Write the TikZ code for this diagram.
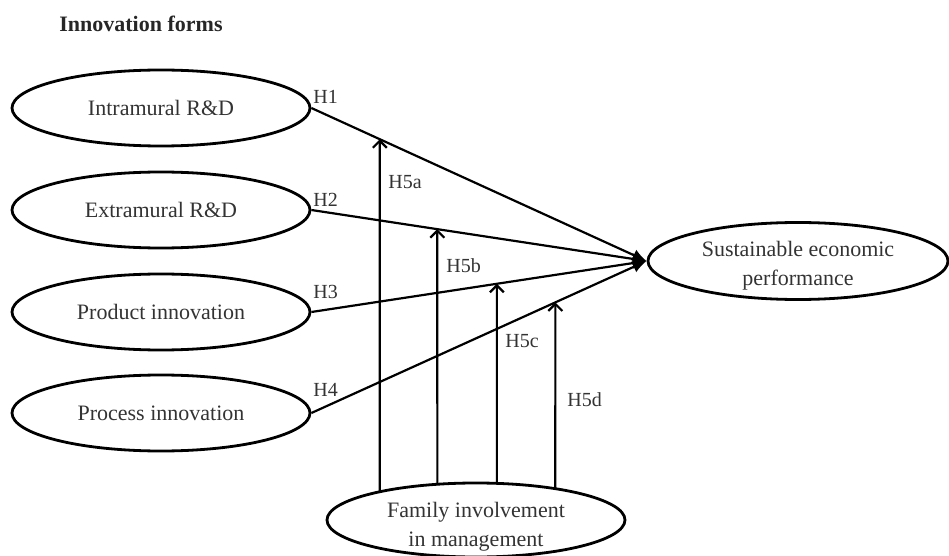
\documentclass[tikz,border=0pt]{standalone}
\usepackage{fontspec}
\setmainfont{Liberation Serif}
\usetikzlibrary{arrows.meta,intersections,calc,shapes.geometric}
\begin{document}
\begin{tikzpicture}[x=0.5pt,y=-0.5pt,
  oval/.style={draw,ellipse,line width=1.4pt,minimum width=149pt,minimum height=38pt,inner sep=0pt,font=\fontsize{11}{14.5}\selectfont,align=center,text=black!80},
  ovaltext/.style={font=\fontsize{11}{14.5}\selectfont,align=center,text=black!80,inner sep=0pt},
  hyp/.style={font=\fontsize{10}{12}\selectfont,inner sep=0pt,anchor=west,text=black!80},
  mainarrow/.style={line width=1.1pt,-{Latex[length=7pt,width=6pt]}},
  modarrow/.style={line width=1.1pt,-{Straight Barb[length=3.5pt,width=7pt]}}]
\useasboundingbox (0,0) rectangle (949,556);

\node[anchor=west,font=\bfseries\fontsize{11}{13}\selectfont,inner sep=0pt,text=black!85] (title) at (59,24) {Innovation forms};

\node[oval] (intra) at (161,108) {Intramural R\&D};
\node[oval] (extra) at (161,210) {Extramural R\&D};
\node[oval] (prod) at (161,312) {Product innovation};
\node[oval] (proc) at (161,413) {Process innovation};
\node[oval,minimum width=150pt,minimum height=38.5pt,
  label={[ovaltext,yshift=-2.5pt]center:{Sustainable economic\\performance}}] (sus) at (798,261) {};
\node[oval,minimum height=37pt,
  label={[ovaltext,yshift=-3.2pt]center:{Family involvement\\in management}}] (fam) at (476,520) {};

\draw[mainarrow] (intra.east) -- (sus.west);
\draw[mainarrow] (extra.east) -- (sus.west);
\draw[mainarrow] (prod.east) -- (sus.west);
\draw[mainarrow] (proc.east) -- (sus.west);

\coordinate (m1) at ($(intra.east)!0.2041!(sus.west)$);
\coordinate (m2) at ($(extra.east)!0.3757!(sus.west)$);
\coordinate (m3) at ($(prod.east)!0.5533!(sus.west)$);
\coordinate (m4) at ($(proc.east)!0.7278!(sus.west)$);

\path[name path=famE] (fam.center) ellipse [x radius=74.5pt, y radius=18.5pt];
\path[name path=va] (m1) -- (m1 |- fam.center);
\path[name path=vb] (m2) -- (m2 |- fam.center);
\path[name path=vc] (m3) -- (m3 |- fam.center);
\path[name path=vd] (m4) -- (m4 |- fam.center);
\path[name intersections={of=va and famE, by=b1}];
\path[name intersections={of=vb and famE, by=b2}];
\path[name intersections={of=vc and famE, by=b3}];
\path[name intersections={of=vd and famE, by=b4}];
\draw[modarrow] (b1) -- (m1);
\draw[modarrow] (b2) -- (m2);
\draw[modarrow] (b3) -- (m3);
\draw[modarrow] (b4) -- (m4);

\node[hyp] (h1) at (313,97) {H1};
\node[hyp] (h2) at (313,200) {H2};
\node[hyp] (h3) at (313,292) {H3};
\node[hyp] (h4) at (313,390) {H4};
\node[hyp] (h5a) at (388,182) {H5a};
\node[hyp] (h5b) at (446,266) {H5b};
\node[hyp] (h5c) at (505,341) {H5c};
\node[hyp] (h5d) at (567,400) {H5d};
\end{tikzpicture}
\end{document}
